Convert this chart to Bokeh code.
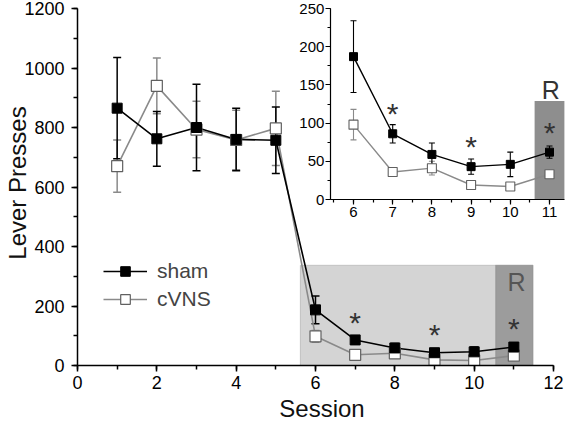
from bokeh.plotting import figure
from bokeh.models import (Range1d, LinearAxis, SingleIntervalTicker, ColumnDataSource,
                          Whisker, TeeHead, BoxAnnotation, Legend, LegendItem)
from bokeh.core.properties import value
from bokeh.embed import file_html
from bokeh.resources import INLINE

# ---------------- data ----------------
sessions = [1, 2, 3, 4, 5, 6, 7, 8, 9, 10, 11]
sham_mean = [865, 762, 800, 760, 757, 187, 86, 59, 43, 46, 62]
sham_sem = [170, 92, 145, 105, 112, 47, 12, 15, 10, 16, 8]
cvns_mean = [670, 940, 793, 758, 797, 98, 36, 41, 19, 17, 33]
cvns_sem = [88, 94, 95, 100, 125, 20, 4, 9, 3, 3, 6]
series_names = ["sham", "cVNS"]
sig_sessions = [7, 9, 11]          # sessions marked with *
inset_first_session = 6            # inset shows sessions 6..11
reinstatement_session = 11         # "R"

FONT = "Liberation Sans"

# ---------------- layout constants (pixels) ----------------
W, H = 566, 425
BL, BB = 77, 60
FW, FH = W - BL, H - BB
X_PPU = (553 - 77) / 12.0          # px per session on main axis
Y1200_PX = 8                       # distance from frame top to y=1200

x_end = FW / X_PPU
y_end = FH * 1200.0 / (FH - Y1200_PX)

# inset mapping (frame-relative pixels)
IN_X6, IN_PX_PER = 353 - BL, 39.2
IN_Y0, IN_Y250 = 199, 8
in_ppu = (IN_Y0 - IN_Y250) / 250.0
inx = Range1d(6 - IN_X6 / IN_PX_PER, 6 + (FW - IN_X6) / IN_PX_PER)
iny = Range1d((IN_Y0 - FH) / in_ppu, IN_Y0 / in_ppu)
IN_XMIN, IN_XMAX = 5.41, 11.38

p = figure(width=W, height=H, output_backend="svg", toolbar_location=None,
           x_range=Range1d(0, x_end), y_range=Range1d(0, y_end),
           min_border_left=BL, min_border_bottom=BB, min_border_top=0, min_border_right=0,
           x_axis_location=None, y_axis_location=None)
p.extra_x_ranges = {"inx": inx}
p.extra_y_ranges = {"iny": iny}
p.outline_line_color = None
p.grid.visible = False
p.background_fill_color = "white"
p.border_fill_color = "white"

def style_axis(ax, fs, lw, mj, mn):
    ax.axis_line_color = "black"
    ax.axis_line_width = lw
    ax.major_tick_line_color = "black"
    ax.major_tick_line_width = lw
    ax.minor_tick_line_color = "black"
    ax.minor_tick_line_width = lw
    ax.major_tick_in = 0
    ax.major_tick_out = mj
    ax.minor_tick_in = 0
    ax.minor_tick_out = mn
    ax.major_label_text_font = FONT
    ax.major_label_text_font_size = fs
    ax.major_label_text_color = "black"
    ax.axis_label_text_font = FONT
    ax.axis_label_text_font_style = "normal"
    ax.axis_label_text_font_size = "24px"
    ax.axis_label_text_color = "#111111"

# main axes
xax = LinearAxis(ticker=SingleIntervalTicker(interval=2, num_minor_ticks=2),
                 bounds=(0, 12), axis_label="Session")
style_axis(xax, "18px", 1.5, 6, 4)
xax.major_label_standoff = 4
xax.axis_label_standoff = 3
p.add_layout(xax, "below")

yax = LinearAxis(ticker=SingleIntervalTicker(interval=200, num_minor_ticks=2),
                 bounds=(0, 1200), axis_label="Lever Presses")
style_axis(yax, "18px", 1.5, 6, 4)
yax.major_label_standoff = 7
yax.axis_label_standoff = -10
p.add_layout(yax, "left")

# shaded boxes in main plot
box_light = BoxAnnotation(left=5.62, right=11.48, bottom=0, top=337,
                          fill_color="#d4d4d4", fill_alpha=1.0,
                          line_color="#7a7a7a", line_width=1.2, level="underlay")
box_dark = BoxAnnotation(left=10.54, right=11.48, bottom=0, top=337,
                         fill_color="#9c9c9c", fill_alpha=1.0,
                         line_color="#7a7a7a", line_width=1.2, level="underlay")
p.add_layout(box_light)
p.add_layout(box_dark)

# inset shaded box
box_in = BoxAnnotation(left=10.62, right=IN_XMAX, bottom=0, top=129,
                       fill_color="#8e8e8e", fill_alpha=1.0, line_color=None,
                       x_range_name="inx", y_range_name="iny", level="underlay")
p.add_layout(box_in)

def src(mean, sem, start=0):
    xs = sessions[start:]
    m = mean[start:]
    s = sem[start:]
    return ColumnDataSource(dict(x=xs, y=m,
                                 upper=[a + b for a, b in zip(m, s)],
                                 lower=[a - b for a, b in zip(m, s)]))

sham_src = src(sham_mean, sham_sem)
cvns_src = src(cvns_mean, cvns_sem)
i0 = sessions.index(inset_first_session)
sham_in = src(sham_mean, sham_sem, i0)
cvns_in = src(cvns_mean, cvns_sem, i0)

GRAY = "#8a8a8a"

# main error bars
for s, c in [(cvns_src, GRAY), (sham_src, "black")]:
    w = Whisker(base="x", upper="upper", lower="lower", source=s,
                line_color=c, line_width=1.5,
                upper_head=TeeHead(size=8, line_color=c, line_width=1.5),
                lower_head=TeeHead(size=8, line_color=c, line_width=1.5))
    p.add_layout(w)

# main lines/markers
l_c = p.line("x", "y", source=cvns_src, line_color=GRAY, line_width=1.6)
l_s = p.line("x", "y", source=sham_src, line_color="black", line_width=1.6)
m_c = p.scatter("x", "y", source=cvns_src, marker="square", size=11,
                fill_color="white", line_color="#606060", line_width=1.2)
m_s = p.scatter("x", "y", source=sham_src, marker="square", size=10,
                fill_color="black", line_color="black", line_width=1)

# inset error bars
for s, c in [(cvns_in, GRAY), (sham_in, "black")]:
    w = Whisker(base="x", upper="upper", lower="lower", source=s,
                x_range_name="inx", y_range_name="iny",
                line_color=c, line_width=1.1,
                upper_head=TeeHead(size=6, line_color=c, line_width=1.1),
                lower_head=TeeHead(size=6, line_color=c, line_width=1.1))
    p.add_layout(w)

p.line("x", "y", source=cvns_in, line_color=GRAY, line_width=1.4,
       x_range_name="inx", y_range_name="iny")
p.line("x", "y", source=sham_in, line_color="black", line_width=1.4,
       x_range_name="inx", y_range_name="iny")
p.scatter("x", "y", source=cvns_in, marker="square", size=9,
          fill_color="white", line_color="#606060", line_width=1.1,
          x_range_name="inx", y_range_name="iny")
p.scatter("x", "y", source=sham_in, marker="square", size=8,
          fill_color="black", line_color="black",
          x_range_name="inx", y_range_name="iny")

# inset axes
ixax = LinearAxis(x_range_name="inx", y_range_name="iny",
                  ticker=SingleIntervalTicker(interval=1, num_minor_ticks=2),
                  bounds=(IN_XMIN, IN_XMAX), fixed_location=0)
style_axis(ixax, "15px", 1.2, 5, 3)
ixax.major_label_standoff = 2
p.add_layout(ixax, "below")

iyax = LinearAxis(x_range_name="inx", y_range_name="iny",
                  ticker=SingleIntervalTicker(interval=50, num_minor_ticks=2),
                  bounds=(0, 250), fixed_location=IN_XMIN)
style_axis(iyax, "15px", 1.2, 5, 3)
iyax.major_label_standoff = 1
p.add_layout(iyax, "left")

# significance stars and R labels
main_star_y = [145, 105, 125]
inset_star_y = [112, 69, 88]
p.text(x=sig_sessions, y=main_star_y, text=["*"] * len(sig_sessions),
       text_font=value(FONT), text_font_size="30px", text_align="center",
       text_baseline="middle", text_color="#333333")
p.text(x=sig_sessions, y=inset_star_y, text=["*"] * len(sig_sessions),
       text_font=value(FONT), text_font_size="30px", text_align="center",
       text_baseline="middle", text_color="#333333",
       x_range_name="inx", y_range_name="iny")
p.text(x=[reinstatement_session + 0.07], y=[279], text=["R"],
       text_font=value(FONT), text_font_size="25px", text_align="center",
       text_baseline="middle", text_color="#555555")
p.text(x=[reinstatement_session + 0.03], y=[143], text=["R"],
       text_font=value(FONT), text_font_size="25px", text_align="center",
       text_baseline="middle", text_color="#333333",
       x_range_name="inx", y_range_name="iny")

legend = Legend(items=[LegendItem(label=series_names[0], renderers=[l_s, m_s]),
                       LegendItem(label=series_names[1], renderers=[l_c, m_c])],
                location=(26, 54), background_fill_alpha=0, border_line_color=None,
                label_text_font=FONT, label_text_font_size="21px",
                glyph_width=44, glyph_height=24, label_standoff=10, spacing=4,
                padding=0, margin=0, label_height=24)
p.add_layout(legend)

open("out.html", "w").write(file_html(p, INLINE))
